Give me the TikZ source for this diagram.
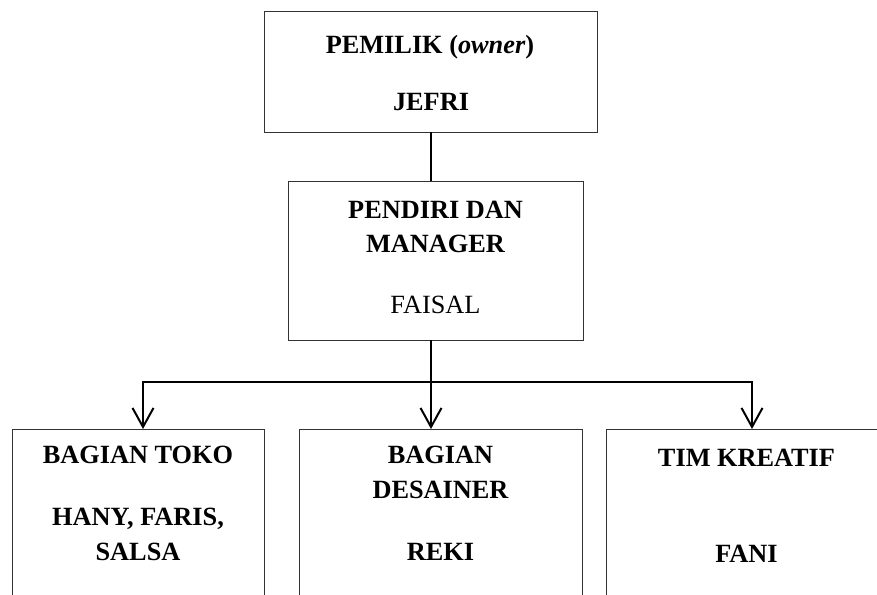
\documentclass[tikz,border=0pt]{standalone}
\usepackage{fontspec}
\setmainfont{Liberation Serif}
\usetikzlibrary{arrows.meta}
\begin{document}
\begin{tikzpicture}[x=1pt,y=-1pt,
  box/.style={draw=black!80, line width=1pt, inner sep=0pt, outer sep=0pt},
  lbl/.style={anchor=base, inner sep=0pt, font=\fontsize{26.3}{30}\selectfont\bfseries},
  lblr/.style={anchor=base, inner sep=0pt, font=\fontsize{26.3}{30}\selectfont},
  conn/.style={line width=2pt, black},
  arr/.style={conn, -{Straight Barb[length=19pt,width=21pt]}}]
\clip (0,0) rectangle (877,594);
\fill[white] (0,0) rectangle (877,594);
% boxes
\node[box, minimum width=333pt, minimum height=120pt] (own) at (430.5,72) {};
\node[box, minimum width=295pt, minimum height=159pt] (mgr) at (435.5,260.5) {};
\node[box, minimum width=252pt, minimum height=221pt] (toko) at (138,539.5) {};
\node[box, minimum width=283pt, minimum height=221pt] (des) at (440.5,539.5) {};
\node[box, minimum width=284pt, minimum height=221pt] (tim) at (748,539.5) {};
% texts
\node[lbl] (t1) at (430,53) {PEMILIK (\textit{owner})};
\node[lbl] (t2) at (431,110) {JEFRI};
\node[lbl] (t3) at (435.5,218) {PENDIRI DAN};
\node[lbl] (t4) at (435.5,252) {MANAGER};
\node[lblr] (t5) at (435.5,313) {FAISAL};
\node[lbl] (t6) at (138,463) {BAGIAN TOKO};
\node[lbl] (t7) at (138,525) {HANY, FARIS,};
\node[lbl] (t8) at (138,560) {SALSA};
\node[lbl] (t9) at (440.5,463) {BAGIAN};
\node[lbl] (t10) at (440.5,498) {DESAINER};
\node[lbl] (t11) at (440.5,560) {REKI};
\node[lbl] (t12) at (746.5,466) {TIM KREATIF};
\node[lbl] (t13) at (746.5,562) {FANI};
% connectors
\coordinate (j) at (431,382);
\coordinate (l) at (143,382);
\coordinate (r) at (752,382);
\draw[conn] (own.south -| j) -- (mgr.north -| j);
\draw[arr] (mgr.south -| j) -- (des.north -| j);
\draw[arr] (j) -- (l) -- (l |- toko.north);
\draw[arr] (j) -- (r) -- (r |- tim.north);
\end{tikzpicture}
\end{document}
